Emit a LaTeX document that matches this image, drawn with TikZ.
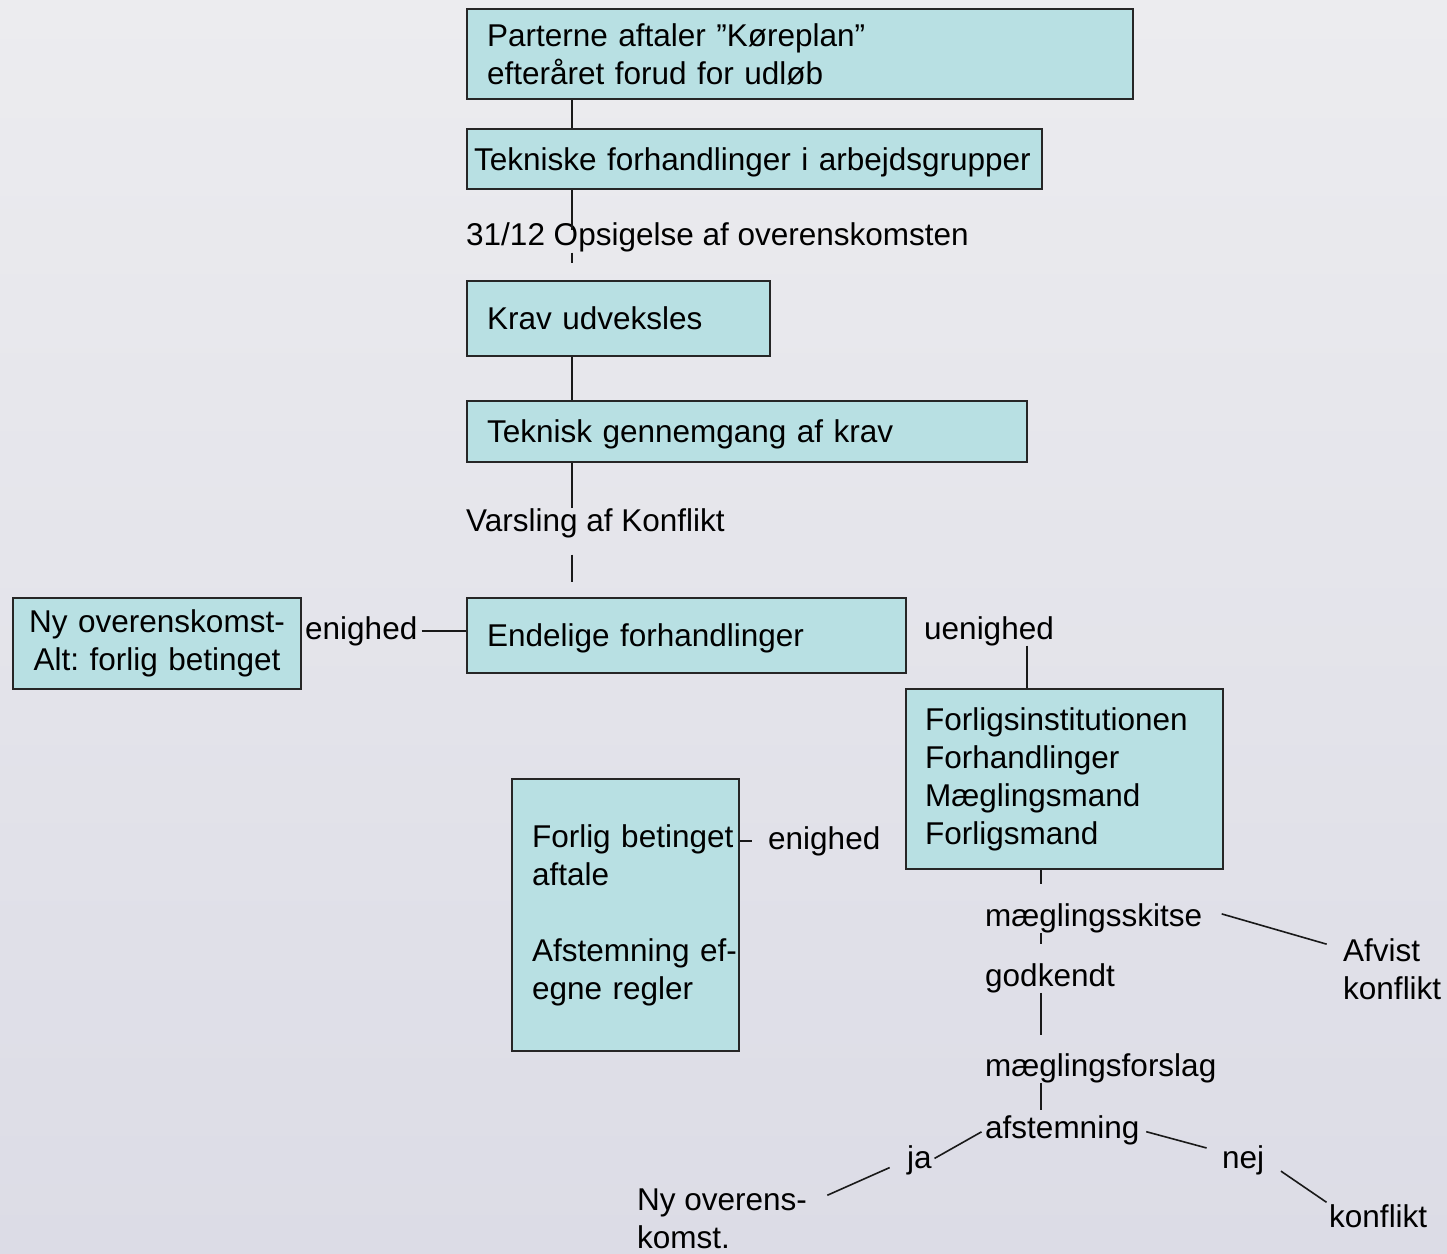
\documentclass[tikz,border=0pt]{standalone}
\usepackage{fontspec}
\setmainfont{Liberation Sans}
\frenchspacing
\usetikzlibrary{positioning}

\definecolor{boxfill}{HTML}{B8E0E3}
\definecolor{bgtop}{HTML}{ECECEF}
\definecolor{bgbot}{HTML}{DCDCE6}
\newcommand{\dkfont}{\fontsize{31.5}{38}\selectfont}

\tikzset{
  fase/.style={draw=black!85, fill=boxfill, line width=2pt, anchor=north west,
    align=left, inner xsep=20pt, inner ysep=0pt, font=\dkfont},
  enlinje/.style={fase, text depth=0pt},
  tekst/.style={inner sep=0pt, anchor=base west, font=\dkfont},
  forbind/.style={line width=1.6pt, black!90}
}

\begin{document}
\begin{tikzpicture}[x=1pt, y=1pt]
            \fill[top color=bgtop, bottom color=bgbot] (0,0) rectangle (1447,-1253);
            \useasboundingbox (0,0) rectangle (1447,-1253);
            \coordinate (spine) at (572,0);
            \coordinate (gren) at (1027,0);
            \coordinate (stamme) at (1041,0);

            % boxes
            \node[fase, text width=626, minimum height=90] (koreplan) at (466,-8) {Parterne aftaler ”Køreplan”\\efteråret forud for udløb};
            \node[enlinje, inner xsep=7pt, text width=561, minimum height=60] (teknisk) at (466,-128) {Tekniske forhandlinger i arbejdsgrupper};
            \node[enlinje, text width=263, minimum height=75] (krav) at (466,-280) {Krav udveksles};
            \node[enlinje, text width=520, minimum height=61] (gennemgang) at (466,-400) {Teknisk gennemgang af krav};
            \node[enlinje, text width=399, minimum height=75] (endelige) at (466,-597) {Endelige forhandlinger};
            \node[fase, align=center, inner xsep=10pt, text width=268, minimum height=91] (nyover) at (12,-597) {Ny overenskomst-\\Alt: forlig betinget};
            \node[fase, inner xsep=19pt, text width=279, minimum height=180] (forligsinst) at (905,-688) {Forligsinstitutionen\\Forhandlinger\\Mæglingsmand\\Forligsmand};
            \node[fase, text width=187, minimum height=272] (betinget) at (511,-778) {\mbox{Forlig betinget}\\aftale\\[38pt]\mbox{Afstemning ef-}\\egne regler};

            % labels
            \node[tekst] (opsig) at (466,-245) {31/12 Opsigelse af overenskomsten};
            \node[tekst] (varsling) at (466,-531) {Varsling af Konflikt};
            \node[tekst] (enighedA) at (305,-639) {enighed};
            \node[tekst] (uenighed) at (924,-639) {uenighed};
            \node[tekst] (enighedB) at (768,-849) {enighed};
            \node[tekst] (skitse) at (985,-926) {mæglingsskitse};
            \node[tekst] (godkendt) at (985,-986) {godkendt};
            \node[tekst] (forslag) at (985,-1076) {mæglingsforslag};
            \node[tekst] (afstem) at (985,-1138) {afstemning};
            \node[tekst] (ja) at (907,-1168) {ja};
            \node[tekst] (nej) at (1222,-1168) {nej};
            \node[tekst, anchor=north west, align=left] (afvist) at (1343,-938) {Afvist\\konflikt};
            \node[tekst, anchor=north west, align=left] (nyoverens) at (637,-1189) {Ny overens-\\komst.};
            \node[tekst] (konflikt) at (1329,-1227) {konflikt};

            % main line
            \draw[forbind] (koreplan.south -| spine) -- (spine |- teknisk.north);
            \draw[forbind, shorten >=-8pt] (teknisk.south -| spine) -- (spine |- opsig.north);
            \draw[forbind, shorten <=1pt, shorten >=17pt] (spine |- opsig.south) -- (spine |- krav.north);
            \draw[forbind] (krav.south -| spine) -- (spine |- gennemgang.north);
            \draw[forbind] (gennemgang.south -| spine) -- (spine |- varsling.north);
            \draw[forbind, shorten <=17pt, shorten >=15pt] (spine |- varsling.south) -- (spine |- endelige.north);
            \draw[forbind, shorten <=4pt] (enighedA.east) -- (enighedA.east -| endelige.west);
            \draw[forbind] (gren |- uenighed.south) -- (gren |- forligsinst.north);
            \draw[forbind, shorten >=16pt] (betinget.east |- enighedB.west) -- (enighedB.west);

            % mediation
            \draw[forbind, shorten >=19pt] (forligsinst.south -| stamme) -- (stamme |- skitse.north);
            \draw[forbind, shorten >=19pt] (stamme |- skitse.south) -- (stamme |- godkendt.north);
            \draw[forbind, shorten >=18pt] (stamme |- godkendt.south) -- (stamme |- forslag.north);
            \draw[forbind, shorten >=5pt] (stamme |- forslag.south) -- (stamme |- afstem.north);
            \draw[forbind, shorten <=20pt, shorten >=17pt] (skitse.5) -- (afvist.158);
            \draw[forbind, shorten <=4pt, shorten >=3pt] (afstem.west) -- (ja.east);
            \draw[forbind, shorten <=19pt, shorten >=22pt] (ja.west) -- (nyoverens.10);
            \draw[forbind, shorten <=7pt, shorten >=16pt] (afstem.east) -- (nej.160);
            \draw[forbind, shorten <=20pt, shorten >=3pt] (nej.east) -- (konflikt.north west);
        \end{tikzpicture}
\end{document}
